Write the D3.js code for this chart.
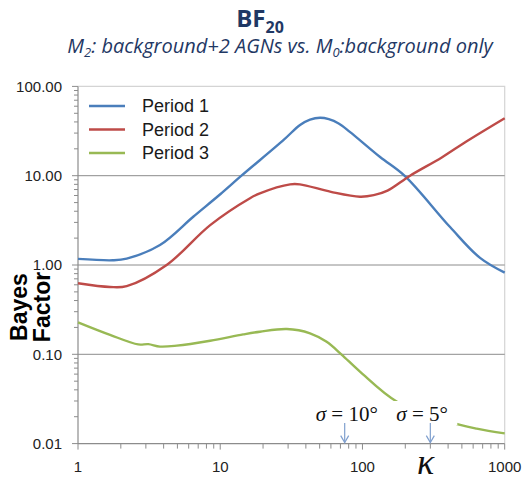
<!DOCTYPE html>
<html>
<head>
<meta charset="utf-8">
<script src="https://cdn.jsdelivr.net/npm/d3@7"></script>
<style>
  html, body { margin: 0; padding: 0; background: #fff; }
  svg { display: block; }
</style>
</head>
<body>
<svg id="chart" width="525" height="481"></svg>
<script>
// Bayes factor BF20 against concentration parameter kappa, three observation periods
const seriesNames = ["Period 1", "Period 2", "Period 3"];
const seriesColors = ["#4A7EBB", "#BE4B48", "#98B954"];

const kappa1 = [1, 1.76, 2.2, 3.77, 6.46, 10, 14.1, 27.8, 36.4, 42.8, 50.3, 58, 68, 81.5, 133, 199, 413, 671, 1000];
const bf1    = [1.17, 1.13, 1.18, 1.675, 3.47, 6.2, 10, 25, 37, 42.5, 44.6, 43, 38.5, 31, 16.2, 9.9, 2.66, 1.2, 0.82];

const kappa2 = [1, 1.68, 2.2, 4.2, 8.5, 16.2, 19, 31, 36.3, 60, 96, 120, 150, 216, 361, 541, 1000];
const bf2    = [0.624, 0.567, 0.58, 1.0, 2.8, 5.6, 6.35, 8.0, 8.0, 6.6, 5.82, 6.05, 6.8, 10, 16, 24.3, 44];

const kappa3 = [1, 1.68, 2.65, 3.12, 3.77, 4.95, 8.5, 14.5, 19, 29.4, 42.8, 56, 71, 96, 175, 402, 636, 1000];
const bf3    = [0.228, 0.165, 0.129, 0.13, 0.122, 0.125, 0.142, 0.167, 0.179, 0.192, 0.172, 0.138, 0.1, 0.064, 0.0294, 0.0176, 0.0147, 0.013];

const xTickValues = [1, 10, 100, 1000];
const yTickValues = [0.01, 0.1, 1, 10, 100];
const yTickLabels = ["0.01", "0.10", "1.00", "10.00", "100.00"];

// kappa positions of the angular-resolution markers
const markerKappa = [75, 300];
const markerLabels = ["10°", "5°"];

const svg = d3.select("#chart");

const x = d3.scaleLog().domain([1, 1000]).range([78, 504.7]);
const y = d3.scaleLog().domain([0.01, 100]).range([443.6, 86.4]);

const plotL = x.range()[0], plotR = x.range()[1];
const plotB = y.range()[0], plotT = y.range()[1];

// plot frame (top/right)
svg.append("path")
  .attr("d", `M${plotL},${plotT}H${plotR}V${plotB}`)
  .attr("fill", "none").attr("stroke", "#d4d4d4").attr("stroke-width", 1.2);

// horizontal gridlines at the decades
svg.append("g").selectAll("line")
  .data(yTickValues.filter(v => v > 0.01 && v < 100))
  .join("line")
  .attr("x1", plotL).attr("x2", plotR)
  .attr("y1", d => y(d)).attr("y2", d => y(d))
  .attr("stroke", "#8c8c8c").attr("stroke-width", 1);

// minor tick values for log axes
function minorTicks(lo, hi) {
  const out = [];
  for (let d = lo; d < hi; d *= 10) {
    for (let m = 2; m <= 9; m++) out.push(d * m);
  }
  return out;
}

// y axis
const yAxis = svg.append("g").attr("transform", `translate(${plotL},0)`);
yAxis.append("line").attr("x1", 0).attr("x2", 0).attr("y1", plotT).attr("y2", plotB)
  .attr("stroke", "#8c8c8c").attr("stroke-width", 1.2);
yAxis.selectAll("line.minor").data(minorTicks(0.01, 100)).join("line")
  .attr("class", "minor")
  .attr("x1", -4).attr("x2", 0).attr("y1", d => y(d)).attr("y2", d => y(d))
  .attr("stroke", "#8c8c8c");
yAxis.selectAll("line.major").data(yTickValues).join("line")
  .attr("class", "major")
  .attr("x1", -6).attr("x2", 0).attr("y1", d => y(d)).attr("y2", d => y(d))
  .attr("stroke", "#8c8c8c");
yAxis.selectAll("text").data(yTickValues).join("text")
  .attr("x", -16).attr("y", d => y(d)).attr("dy", "0.35em")
  .attr("text-anchor", "end")
  .attr("font-family", "Liberation Sans, Arial, sans-serif")
  .attr("font-size", 15).attr("fill", "#222")
  .text((d, i) => yTickLabels[i]);

// x axis
const xAxis = svg.append("g").attr("transform", `translate(0,${plotB})`);
xAxis.append("line").attr("x1", plotL).attr("x2", plotR).attr("y1", 0).attr("y2", 0)
  .attr("stroke", "#8c8c8c").attr("stroke-width", 1.2);
xAxis.selectAll("line.minor").data(minorTicks(1, 1000)).join("line")
  .attr("class", "minor")
  .attr("x1", d => x(d)).attr("x2", d => x(d)).attr("y1", 0).attr("y2", 5)
  .attr("stroke", "#8c8c8c");
xAxis.selectAll("line.major").data(xTickValues).join("line")
  .attr("class", "major")
  .attr("x1", d => x(d)).attr("x2", d => x(d)).attr("y1", 0).attr("y2", 6)
  .attr("stroke", "#8c8c8c");
xAxis.selectAll("text").data(xTickValues).join("text")
  .attr("x", d => x(d)).attr("y", 23).attr("dy", "0.35em")
  .attr("text-anchor", "middle")
  .attr("font-family", "Liberation Sans, Arial, sans-serif")
  .attr("font-size", 15).attr("fill", "#222")
  .text(d => d3.format("d")(d));

// series curves
const series = [
  { k: kappa1, v: bf1 },
  { k: kappa2, v: bf2 },
  { k: kappa3, v: bf3 }
];
const line = d3.line()
  .x(d => x(d[0])).y(d => y(d[1]))
  .curve(d3.curveCatmullRom.alpha(0.5));

svg.append("g").selectAll("path")
  .data(series)
  .join("path")
  .attr("d", s => line(s.k.map((k, i) => [k, s.v[i]])))
  .attr("fill", "none")
  .attr("stroke", (s, i) => seriesColors[i])
  .attr("stroke-width", 2.4)
  .attr("stroke-linejoin", "round");

// legend
const legend = svg.append("g");
seriesNames.forEach((name, i) => {
  const ly = 106 + i * 23.5;
  legend.append("line")
    .attr("x1", 89).attr("x2", 125).attr("y1", ly).attr("y2", ly)
    .attr("stroke", seriesColors[i]).attr("stroke-width", 2.4);
  legend.append("text")
    .attr("x", 142).attr("y", ly).attr("dy", "0.36em")
    .attr("font-family", "Liberation Sans, Arial, sans-serif")
    .attr("font-size", 18).attr("fill", "#1a1a1a")
    .text(name);
});

// sigma markers: label with white backing and a down arrow to the axis
const markers = svg.append("g");
markerKappa.forEach((k, i) => {
  const cx = x(k);
  const g = markers.append("g");
  const rectW = i === 0 ? 70 : 64;
  const labelLeft = i === 0 ? cx - 29 : cx - 34;
  g.append("rect")
    .attr("x", labelLeft - 3).attr("y", 401)
    .attr("width", rectW).attr("height", 24)
    .attr("fill", "#fff");
  const t = g.append("text")
    .attr("x", labelLeft).attr("y", 421)
    .attr("font-family", "Liberation Serif, Times New Roman, serif")
    .attr("font-size", 21).attr("fill", "#111");
  t.append("tspan").attr("font-style", "italic").text("σ");
  t.append("tspan").text(" = " + markerLabels[i]);

  g.append("line")
    .attr("x1", cx).attr("x2", cx).attr("y1", 423).attr("y2", plotB - 1)
    .attr("stroke", "#7f9fce").attr("stroke-width", 1.2);
  g.append("path")
    .attr("d", `M${cx - 4},${plotB - 8}L${cx},${plotB - 1}L${cx + 4},${plotB - 8}`)
    .attr("fill", "none").attr("stroke", "#7f9fce").attr("stroke-width", 1.2);
});

// axis titles
svg.append("text")
  .attr("x", 417).attr("y", 474)
  .attr("font-family", "Liberation Serif, Times New Roman, serif")
  .attr("font-style", "italic").attr("font-size", 36).attr("fill", "#111")
  .text("κ");

const yTitle = svg.append("text")
  .attr("transform", "translate(0,307) rotate(-90)")
  .attr("text-anchor", "middle")
  .attr("font-family", "Liberation Sans, Arial, sans-serif")
  .attr("font-weight", "bold").attr("font-size", 23).attr("fill", "#000");
yTitle.append("tspan").attr("x", 0).attr("y", 27).text("Bayes");
yTitle.append("tspan").attr("x", 0).attr("y", 50).text("Factor");

// chart title and subtitle
const navy = "#1F3864";
const title = svg.append("text")
  .attr("x", 260).attr("y", 27)
  .attr("text-anchor", "middle")
  .attr("font-family", "Open Sans, sans-serif")
  .attr("font-weight", "bold").attr("font-size", 24).attr("fill", navy);
title.append("tspan").text("BF");
title.append("tspan").attr("font-size", 16).attr("dy", 6).text("20");

const sub = svg.append("text")
  .attr("x", 280).attr("y", 53)
  .attr("text-anchor", "middle")
  .attr("font-family", "Open Sans, sans-serif")
  .attr("font-style", "italic").attr("font-size", 20).attr("fill", navy);
sub.append("tspan").text("M");
sub.append("tspan").attr("font-size", 13).attr("dy", 4).text("2");
sub.append("tspan").attr("dy", -4).text(": background+2 AGNs vs. M");
sub.append("tspan").attr("font-size", 13).attr("dy", 4).text("0");
sub.append("tspan").attr("dy", -4).text(":background only");
</script>
</body>
</html>
